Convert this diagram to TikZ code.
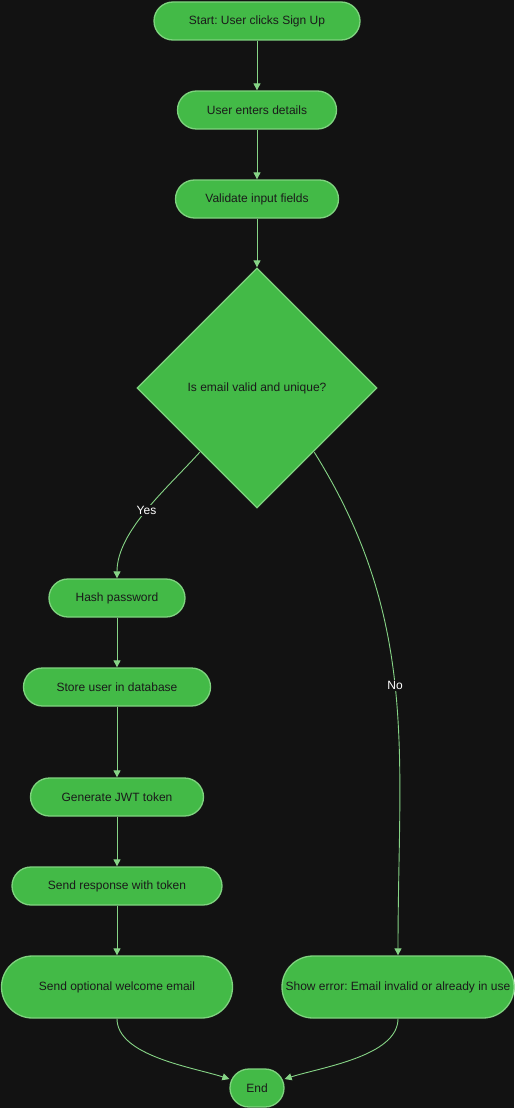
\documentclass[tikz,border=0pt]{standalone}
\usepackage{fontspec}
\setmainfont{Liberation Sans}
\usetikzlibrary{arrows.meta,shapes.geometric}

\definecolor{bgdark}{HTML}{121212}
\definecolor{nodefill}{HTML}{43BA47}
\definecolor{nodeline}{HTML}{7FD37F}
\definecolor{edgeline}{HTML}{86D486}
\definecolor{txtdark}{HTML}{1A1A1A}

\frenchspacing
\begin{document}
\begin{tikzpicture}[x=1pt,y=-1pt,
	pill/.style={draw=nodeline, line width=1.3pt, fill=nodefill, text=txtdark,
		rounded corners=19pt, minimum height=38pt, inner sep=0pt,
		font=\fontsize{12}{14}\selectfont},
	bigpill/.style={pill, rounded corners=31pt, minimum height=62pt},
	decide/.style={diamond, draw=nodeline, line width=1.3pt, fill=nodefill, text=txtdark,
		minimum width=240pt, minimum height=240pt, inner sep=0pt,
		font=\fontsize{12}{14}\selectfont},
	edge/.style={draw=edgeline, line width=0.9pt, -{Triangle[length=7pt,width=7pt]}},
	lbl/.style={fill=bgdark, text=white, inner sep=1.5pt, font=\fontsize{12}{14}\selectfont}]
	
	% ======================================================
	% Background and frame
	% ======================================================
	\fill[bgdark] (0,0) rectangle (514,1108);
	\useasboundingbox (0,0) rectangle (514,1108);
	
	% ======================================================
	% Main column: sign up steps
	% ======================================================
	\node[pill, minimum width=206pt] (start) at (257,21) {Start: User clicks Sign Up};
	\node[pill, minimum width=159pt] (details) at (257,110) {User enters details};
	\node[pill, minimum width=163pt] (validate) at (257,199) {Validate input fields};
	\node[decide] (check) at (257,388) {Is email valid and unique?};
	
	% Left branch (Yes)
	\node[pill, minimum width=136pt] (hash) at (117,598) {Hash password};
	\node[pill, minimum width=187pt] (store) at (117,687) {Store user in database};
	\node[pill, minimum width=173pt] (jwt) at (117,797) {Generate JWT token};
	\node[pill, minimum width=210pt] (respond) at (117,886) {Send response with token};
	\node[bigpill, minimum width=231pt] (welcome) at (117,987) {Send optional welcome email};
	
	% Right branch (No)
	\node[bigpill, minimum width=232pt] (showerr) at (398,987) {Show error: Email invalid or already in use};
	
	% End
	\node[pill, minimum width=54pt] (finish) at (257,1088) {End};
	
	% ======================================================
	% Connectors
	% ======================================================
	\draw[edge] (start) -- (details);
	\draw[edge] (details) -- (validate);
	\draw[edge] (validate) -- (check);
	
	\draw[edge] (check.south west) ++(3,4) to[out=-132,in=90,looseness=0.8]
	node[lbl, pos=0.5] {Yes} (hash.north);
	\draw[edge] (check.south east) ++(-3,4) to[out=-58,in=90]
	node[lbl, pos=0.485] {No} (showerr.north);
	
	\draw[edge] (hash) -- (store);
	\draw[edge] (store) -- (jwt);
	\draw[edge] (jwt) -- (respond);
	\draw[edge] (respond) -- (welcome);
	
	\draw[edge] (welcome.south) to[out=-90,in=162,looseness=0.75] (finish);
	\draw[edge] (showerr.south) to[out=-90,in=18,looseness=0.75] (finish);
	
\end{tikzpicture}
\end{document}
